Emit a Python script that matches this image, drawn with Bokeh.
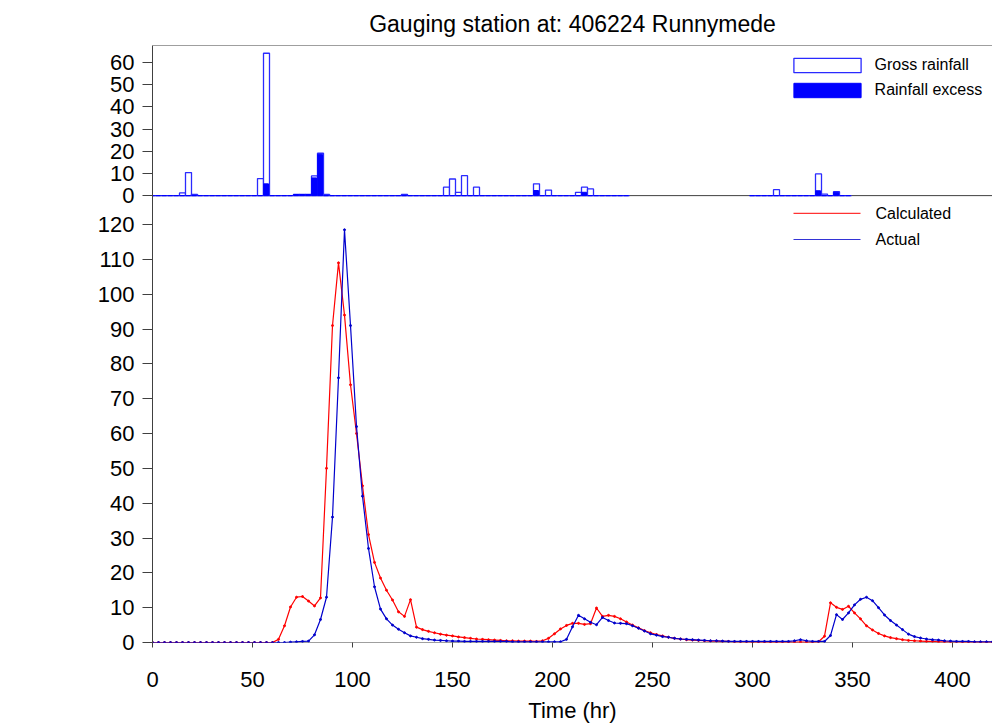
import math
from bokeh.plotting import figure
from bokeh.models import (Range1d, Span, Legend, LegendItem, ColumnDataSource,
                          FixedTicker, CustomJSTickFormatter, Label)
from bokeh.embed import file_html
from bokeh.resources import INLINE

# ---------------- data ----------------
title_text = "Gauging station at: 406224 Runnymede"

time_hr = list(range(0, 421, 3))

calculated = [
    0, 0, 0, 0, 0, 0, 0, 0, 0, 0,
    0, 0, 0, 0, 0, 0, 0, 0, 0, 0,
    0.0, 0.9, 4.8, 10.2, 13.0, 13.2, 11.9, 10.5, 12.8, 50,
    91, 109, 94, 74, 60, 45, 31, 23, 18.5, 15,
    12.2, 8.8, 7.5, 12.3, 4.4, 3.7, 3.2, 2.8, 2.4, 2.1,
    1.9, 1.6, 1.4, 1.2, 1.0, 0.9, 0.8, 0.7, 0.6, 0.5,
    0.5, 0.4, 0.4, 0.4, 0.3, 0.5, 1.2, 2.5, 3.9, 4.9,
    5.5, 5.5, 5.2, 5.4, 9.9, 7.5, 7.8, 7.5, 6.8, 5.9,
    5.0, 4.2, 3.4, 2.8, 2.3, 1.9, 1.5, 1.2, 1.0, 0.8,
    0.7, 0.6, 0.5, 0.4, 0.4, 0.3, 0.3, 0.2, 0.2, 0.2,
    0.1, 0.1, 0.1, 0.1, 0.1, 0.1, 0.1, 0.1, 0.1, 0.1,
    0.1, 0.2, 1.8, 11.4, 10.1, 9.5, 10.4, 8.5, 6.8, 4.8,
    3.6, 2.6, 1.9, 1.4, 1.1, 0.8, 0.6, 0.5, 0.4, 0.3,
    0.3, 0.2, 0.2, 0.2, 0.2, 0.1, 0.1, 0.1, 0.1, 0.1,
    0.1,
]

actual = [
    0, 0, 0, 0, 0, 0, 0, 0, 0, 0,
    0, 0, 0, 0, 0, 0, 0, 0, 0, 0,
    0, 0, 0, 0.1, 0.2, 0.3, 0.4, 2.2, 6.6, 13,
    36, 76, 118.5, 91, 62, 42, 27, 16, 9.6, 6.8,
    5.0, 3.8, 2.8, 1.9, 1.5, 1.1, 0.9, 0.7, 0.6, 0.5,
    0.4, 0.4, 0.3, 0.3, 0.3, 0.3, 0.3, 0.3, 0.3, 0.3,
    0.2, 0.2, 0.2, 0.2, 0.2, 0.2, 0.2, 0.2, 0.2, 0.9,
    4.5, 7.8, 6.8, 5.8, 5.1, 7.2, 6.3, 5.6, 5.5, 5.4,
    4.8, 4.1, 3.3, 2.5, 2.1, 1.7, 1.5, 1.2, 1.0, 0.9,
    0.8, 0.7, 0.6, 0.5, 0.5, 0.4, 0.3, 0.3, 0.3, 0.3,
    0.3, 0.3, 0.3, 0.3, 0.3, 0.3, 0.3, 0.5, 0.8, 0.5,
    0.3, 0.3, 0.3, 2.0, 8.0, 6.6, 8.5, 10.8, 12.4, 13.0,
    12.0, 10.0, 7.9, 6.3, 5.0, 3.7, 2.4, 1.7, 1.3, 1.0,
    0.8, 0.7, 0.5, 0.4, 0.3, 0.3, 0.3, 0.2, 0.2, 0.2,
    0.2,
]

rain_time = list(range(0, 238, 3)) + list(range(300, 349, 3))

gross_rainfall = [
    0, 0, 0, 0, 0, 1.2, 10.4, 0.5, 0, 0,
    0, 0, 0, 0, 0, 0, 0, 0, 7.7, 64.2,
    0, 0, 0, 0, 0.6, 0.6, 0.6, 8.9, 19.1, 0.5,
    0, 0, 0, 0, 0, 0, 0, 0, 0, 0,
    0, 0, 0.6, 0, 0, 0, 0, 0, 0, 3.8,
    7.5, 1.5, 9.0, 0, 3.8, 0, 0, 0, 0, 0,
    0, 0, 0, 0, 5.3, 0, 2.5, 0, 0, 0,
    0, 1.5, 3.8, 3.0, 0, 0, 0, 0, 0, 0,
    0, 0, 0, 0, 2.7, 0, 0, 0, 0, 0,
    0, 9.8, 0.7, 0, 1.8, 0, 0,
]

rainfall_excess = [
    0, 0, 0, 0, 0, 0, 0, 0, 0, 0,
    0, 0, 0, 0, 0, 0, 0, 0, 0, 5.3,
    0, 0, 0, 0, 0.5, 0.5, 0.5, 8.0, 18.6, 0,
    0, 0, 0, 0, 0, 0, 0, 0, 0, 0,
    0, 0, 0, 0, 0, 0, 0, 0, 0, 0,
    0, 0, 0, 0, 0, 0, 0, 0, 0, 0,
    0, 0, 0, 0, 2.3, 0, 0, 0, 0, 0,
    0, 0, 1.5, 0, 0, 0, 0, 0, 0, 0,
    0, 0, 0, 0, 0, 0, 0, 0, 0, 0,
    0, 2.2, 0, 0, 1.5, 0, 0,
]

x_ticks = [0, 50, 100, 150, 200, 250, 300, 350, 400]
rain_ticks = [0, 10, 20, 30, 40, 50, 60]
discharge_ticks = [0, 10, 20, 30, 40, 50, 60, 70, 80, 90, 100, 110, 120]

series_names = ["Calculated", "Actual"]

# ---------------- scales ----------------
X_END = 420
DISC_TOP = 171.4        # discharge value at top of the whole frame
DISC_SPLIT = 128.3      # discharge value where the rainfall panel starts
RAIN_TOP = 67.7         # rainfall value at the top of the frame
K = (DISC_TOP - DISC_SPLIT) / RAIN_TOP
RAIN_BOTTOM = RAIN_TOP - DISC_TOP / K

# ---------------- style ----------------
FONT = "Liberation Sans"
AX = "#404040"
TXT = "#000000"
BAR_BLUE = "#0000ff"
BAR_EDGE = "#2a2aff"
LINE_BLUE = "#0000cc"
RED = "#ff0000"

p = figure(width=992, height=726, x_range=Range1d(0, X_END),
           y_range=Range1d(0, DISC_TOP), output_backend="svg", toolbar_location=None,
           min_border_left=152, min_border_right=0, min_border_top=45,
           min_border_bottom=84)
p.extra_y_ranges = {"rain": Range1d(RAIN_BOTTOM, RAIN_TOP)}
p.background_fill_color = None
p.border_fill_color = None
p.outline_line_color = None
p.xgrid.grid_line_color = None
p.ygrid.grid_line_color = None

p.title.text = title_text
p.title.align = "center"
p.title.text_font = FONT
p.title.text_font_size = "23px"
p.title.text_font_style = "normal"
p.title.text_color = TXT
p.title.standoff = 17


def style_axis(ax, tick_out, label_standoff):
    ax.major_label_text_font = FONT
    ax.major_label_text_font_size = "22px"
    ax.major_label_text_color = TXT
    ax.major_label_standoff = label_standoff
    ax.axis_line_color = AX
    ax.axis_line_width = 1
    ax.major_tick_line_color = AX
    ax.major_tick_line_width = 1
    ax.major_tick_out = tick_out
    ax.major_tick_in = 0
    ax.minor_tick_line_color = None


# left axis: discharge ticks below the split, rainfall ticks above it
yax = p.yaxis[0]
yax.ticker = FixedTicker(ticks=discharge_ticks + [DISC_SPLIT + r * K for r in rain_ticks])
yax.formatter = CustomJSTickFormatter(args=dict(z=DISC_SPLIT, k=K), code="""
    if (tick > z - 1e-6) { return Math.round((tick - z) / k).toString(); }
    return Math.round(tick).toString();
""")
style_axis(yax, 10, 8)

xax = p.xaxis[0]
xax.ticker = FixedTicker(ticks=x_ticks)
xax.axis_label = "Time (hr)"
xax.axis_label_text_font = FONT
xax.axis_label_text_font_size = "22px"
xax.axis_label_text_font_style = "normal"
xax.axis_label_text_color = TXT
xax.axis_label_standoff = 8
style_axis(xax, 5, 24)
xax.axis_line_color = None   # baseline drawn beneath the data instead

# axis titles
p.add_layout(Label(x=-64.5, y=34.7, y_range_name="rain", text="Rainfall (mm)",
                   angle=math.pi / 2, text_align="center", text_baseline="middle",
                   text_font=FONT, text_font_size="18px", text_color=TXT))
p.add_layout(Label(x=-64.5, y=60.3, text="Discharge (m³/s)",
                   angle=math.pi / 2, text_align="center", text_baseline="middle",
                   text_font=FONT, text_font_size="21px", text_color=TXT))

# panel border lines (beneath the data)
for loc in (0, DISC_SPLIT, DISC_TOP):
    p.add_layout(Span(location=loc, dimension="width", line_color=AX, line_width=1,
                      level="underlay"))

# rainfall bars
rain_src = ColumnDataSource(dict(
    t=rain_time, gross=gross_rainfall, excess=rainfall_excess,
    left=[t - 1.5 for t in rain_time], right=[t + 1.5 for t in rain_time],
    eleft=[t - 1.4 for t in rain_time], eright=[t + 1.0 for t in rain_time],
))
gross_r = p.quad(left="left", right="right", bottom=0, top="gross", source=rain_src,
                 y_range_name="rain", fill_color="white", line_color=BAR_EDGE,
                 line_width=1.3)
excess_r = p.quad(left="eleft", right="eright", bottom=0, top="excess", source=rain_src,
                  y_range_name="rain", fill_color=BAR_BLUE, line_color=BAR_BLUE,
                  line_width=1)

# discharge lines
p.line(time_hr, calculated, line_color=RED, line_width=1.2)
p.scatter(time_hr, calculated, size=2, color=RED)
p.line(time_hr, actual, line_color=LINE_BLUE, line_width=1.2)
p.scatter(time_hr, actual, size=2, color=LINE_BLUE)

rain_legend = Legend(items=[LegendItem(label="Gross rainfall", renderers=[gross_r]),
                            LegendItem(label="Rainfall excess", renderers=[excess_r])],
                     location=(632.6, 542.8), padding=0, margin=0, spacing=7,
                     glyph_width=84, glyph_height=18, label_height=18, label_standoff=6,
                     label_text_font=FONT, label_text_font_size="16px",
                     label_text_color=TXT, border_line_color=None,
                     background_fill_alpha=0)
p.add_layout(rain_legend)

# discharge key (sample line + label for each series)
KEY_X0, KEY_X1, KEY_TX = 320.5, 354.0, 361.5
KEY_Y = [123.2, 115.7]
p.segment(x0=[KEY_X0] * 2, x1=[KEY_X1] * 2, y0=KEY_Y, y1=KEY_Y,
          line_color=[RED, LINE_BLUE], line_width=1.2, line_alpha=0.8)
for name, ky in zip(series_names, KEY_Y):
    p.add_layout(Label(x=KEY_TX, y=ky, text=name, text_align="left",
                       text_baseline="middle", text_font=FONT,
                       text_font_size="16px", text_color=TXT))

open("out.html", "w").write(file_html(p, INLINE))
